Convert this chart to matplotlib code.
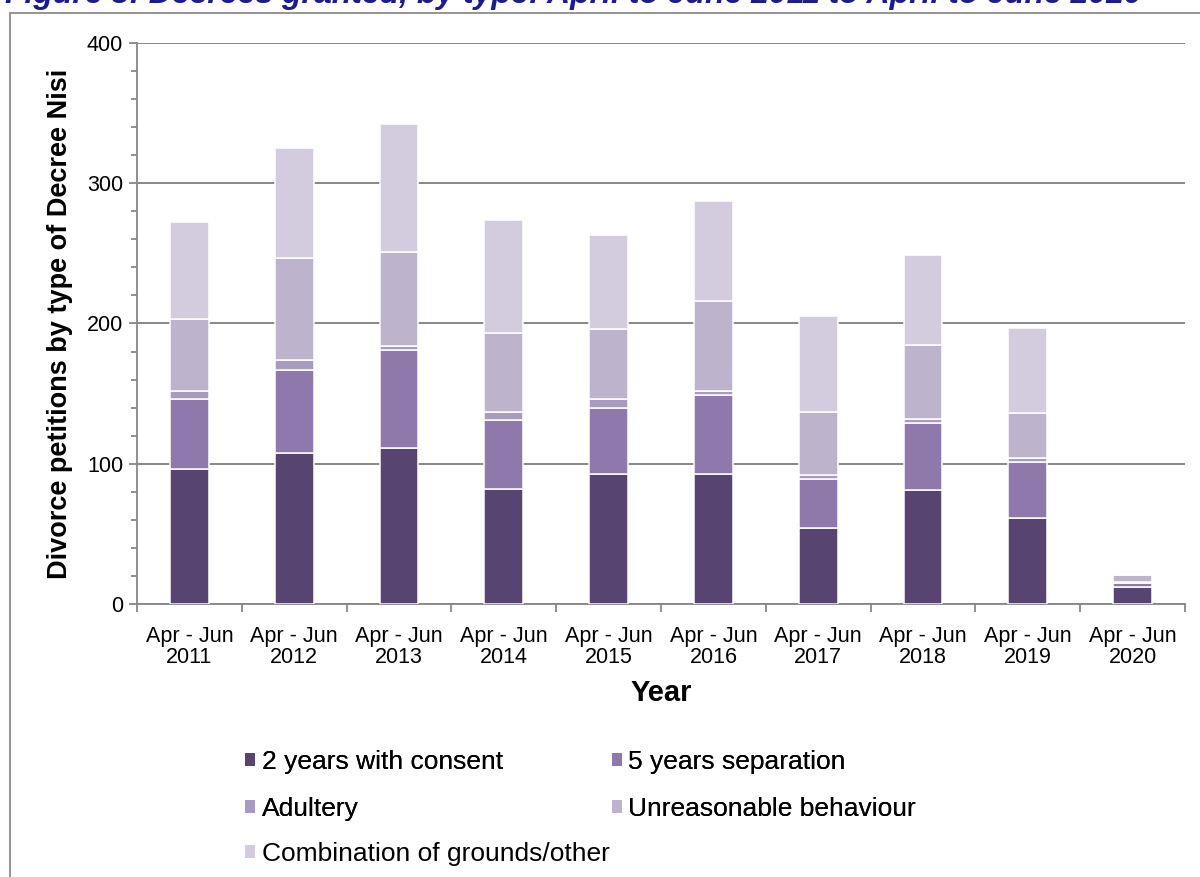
import matplotlib.pyplot as plt
import numpy as np
from matplotlib.patches import Patch, Rectangle
from matplotlib.ticker import MultipleLocator

plt.rcParams["font.family"] = ["Liberation Sans", "DejaVu Sans"]

years = ["2011", "2012", "2013", "2014", "2015", "2016", "2017", "2018", "2019", "2020"]
quarter = "Apr - Jun"

two_years_consent = [96, 108, 111, 82, 93, 93, 54, 81, 61, 12]
five_years_separation = [50, 59, 70, 49, 47, 56, 35, 48, 40, 3]
adultery = [6, 7, 3, 6, 6, 3, 3, 3, 3, 1]
unreasonable = [51, 73, 67, 56, 50, 64, 45, 53, 32, 5]
combination = [69, 78, 91, 81, 67, 71, 68, 64, 61, 0]

series = [
    ("2 years with consent", two_years_consent, "#574470"),
    ("5 years separation", five_years_separation, "#8f78ab"),
    ("Adultery", adultery, "#a99ac0"),
    ("Unreasonable behaviour", unreasonable, "#beb3cc"),
    ("Combination of grounds/other", combination, "#d3ccde"),
]

grey = "#878787"

fig = plt.figure(figsize=(12, 8.77), dpi=100)
ax = fig.add_axes([0.1142, 0.3113, 0.8733, 0.6397])

# outer frame of the chart area
fig.patches.append(Rectangle((10 / 1200, -0.1), 1.2, (877 - 13) / 877 + 0.1,
                             transform=fig.transFigure, fill=False,
                             edgecolor="#8c8c8c", linewidth=1.3, zorder=0))

fig.text(0.004, 0.9962,
         "Figure 3: Decrees granted, by type: April to June 2011 to April to June 2020",
         fontsize=23, fontweight="bold", fontstyle="italic", color="#1c1c8c",
         ha="left", va="baseline")

x = np.arange(len(years))
bottom = np.zeros(len(years))
handles = {}
for name, vals, col in series:
    vals = np.array(vals, dtype=float)
    ax.bar(x, vals, width=0.37, bottom=bottom, color=col, edgecolor="white",
           linewidth=1.1, zorder=3)
    handles[name] = Patch(facecolor=col, edgecolor="none")
    bottom += vals

ax.set_xlim(-0.5, len(years) - 0.5)
ax.set_ylim(0, 400)
ax.yaxis.set_major_locator(MultipleLocator(100))
ax.yaxis.set_minor_locator(MultipleLocator(20))
ax.grid(axis="y", which="major", color=grey, linewidth=1.4, zorder=0)

ax.set_xticks(x)
ax.set_xticklabels([f"{quarter}\n{y}" for y in years], fontsize=15.5, linespacing=1.0)
ax.set_xticks(np.arange(-0.5, len(years)), minor=True)
ax.tick_params(axis="x", which="major", length=0, pad=16)
ax.tick_params(axis="x", which="minor", length=6, width=1.3, color=grey, direction="out")
ax.tick_params(axis="y", which="major", length=6, width=1.3, color=grey,
               labelsize=15.5, pad=4)
ax.tick_params(axis="y", which="minor", length=4, width=1.3, color=grey)

for side in ("top", "right"):
    ax.spines[side].set_visible(False)
for side in ("left", "bottom"):
    ax.spines[side].set_color(grey)
    ax.spines[side].set_linewidth(1.3)

ax.set_ylabel("Divorce petitions by type of Decree Nisi", fontsize=19.5,
              fontweight="bold", labelpad=10)
ax.set_xlabel("Year", fontsize=21, fontweight="bold", labelpad=8)

order = ["2 years with consent", "Adultery", "5 years separation", "Unreasonable behaviour"]
leg_kw = dict(frameon=False, fontsize=19, handlelength=0.38, handleheight=0.38,
              handletextpad=0.25, borderpad=0, borderaxespad=0, loc="upper left")
leg = fig.legend([handles[n] for n in order], order, ncol=2, columnspacing=4.13,
                 labelspacing=0.87, bbox_to_anchor=(245 / 1200, 0.1453), **leg_kw)
fig.add_artist(leg)
last = "Combination of grounds/other"
fig.legend([handles[last]], [last], bbox_to_anchor=(245 / 1200, 0.040), **leg_kw)

fig.savefig("out.png", dpi=100)
